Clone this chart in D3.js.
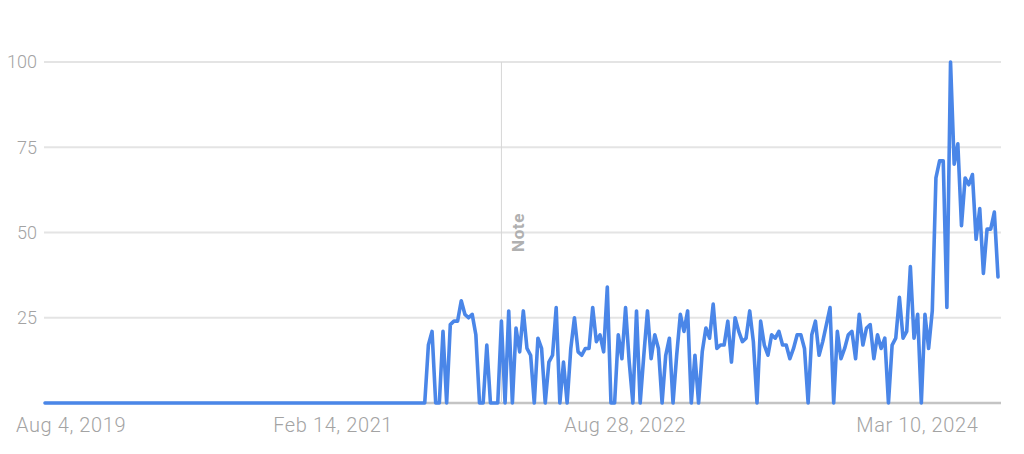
<!DOCTYPE html>
<html>
<head>
<meta charset="utf-8">
<script src="https://cdn.jsdelivr.net/npm/d3@7"></script>
<style>
  html, body { margin: 0; padding: 0; background: #ffffff; }
  svg { display: block; }
</style>
</head>
<body>
<svg id="chart" width="1024" height="454"></svg>
<script>
// ---- data ----
const startWeek = "2019-08-04";
const values = [
  0,0,0,0,0,0,0,0,0,0, 0,0,0,0,0,0,0,0,0,0,
  0,0,0,0,0,0,0,0,0,0, 0,0,0,0,0,0,0,0,0,0,
  0,0,0,0,0,0,0,0,0,0, 0,0,0,0,0,0,0,0,0,0,
  0,0,0,0,0,0,0,0,0,0, 0,0,0,0,0,0,0,0,0,0,
  0,0,0,0,0,0,0,0,0,0, 0,0,0,0,0,0,0,0,0,0,
  0,0,0,0,0,
  17,21,0,0,21,0,23,24,24,30,26,25,26,20,0,0,17,0,0,0,24,0,27,0,22,15,27,16,14,0,19,
  16,0,12,14,28,0,12,0,16,25,15,14,16,16,28,18,20,15,34,0,0,20,13,28,12,0,27,0,14,27,13,20,
  16,0,14,19,0,14,26,21,27,0,14,0,15,22,19,29,16,17,17,24,12,25,21,18,19,27,18,0,24,17,14,20,
  19,21,17,17,13,16,20,20,16,0,20,24,14,18,23,28,0,21,13,16,20,21,13,26,17,22,23,13,20,16,19,0,17,
  19,31,19,21,40,19,26,0,26,16,27,66,71,71,28,100,70,76,52,66,64,67,48,57,38,51,51,56,37
];
const yTicks = [25, 50, 75, 100];
const xTickLabels = ["Aug 4, 2019", "Feb 14, 2021", "Aug 28, 2022", "Mar 10, 2024"];
const noteDate = "2021-12-26";
const noteLabel = "Note";

(function () {
  const parseLabel = d3.utcParse("%b %d, %Y");
  const start = d3.utcParse("%Y-%m-%d")(startWeek);
  const series = values.map((v, i) => ({ date: d3.utcWeek.offset(start, i), value: v }));

  const svg = d3.select("#chart");
  const W = 1024;
  const mLeft = 45, mRight = 998, mTop = 62, mBottom = 403;

  const x = d3.scaleUtc()
    .domain(d3.extent(series, d => d.date))
    .range([mLeft, mRight]);
  const y = d3.scaleLinear().domain([0, 100]).range([mBottom, mTop]);

  const font = "Roboto, 'Noto Sans', sans-serif";
  const grey = "#a3a3a3";

  svg.append("g").selectAll("line").data(yTicks).join("line")
    .attr("x1", mLeft - 1).attr("x2", mRight + 3)
    .attr("y1", d => y(d)).attr("y2", d => y(d))
    .attr("stroke", "#e4e4e4").attr("stroke-width", 2);

  svg.append("g").selectAll("text").data(yTicks).join("text")
    .attr("x", mLeft - 8).attr("y", d => y(d))
    .attr("dy", "0.36em")
    .attr("text-anchor", "end")
    .attr("font-family", font).attr("font-size", 18).attr("font-weight", 300)
    .attr("fill", grey)
    .text(d => d);

  svg.append("line")
    .attr("x1", mLeft - 1).attr("x2", mRight + 3)
    .attr("y1", y(0)).attr("y2", y(0))
    .attr("stroke", "#c4c4c4").attr("stroke-width", 2.5);

  const nd = d3.utcParse("%Y-%m-%d")(noteDate);
  svg.append("line")
    .attr("x1", x(nd)).attr("x2", x(nd))
    .attr("y1", y(100)).attr("y2", y(0))
    .attr("stroke", "#d6d6d6").attr("stroke-width", 1);
  svg.append("text")
    .attr("transform", `translate(${x(nd) + 23},${y(50)}) rotate(-90)`)
    .attr("text-anchor", "middle")
    .attr("font-family", font).attr("font-size", 17).attr("font-weight", 700)
    .attr("letter-spacing", 0.6)
    .attr("fill", "#b0b0b0")
    .text(noteLabel);

  const line = d3.line().x(d => x(d.date)).y(d => y(d.value)).curve(d3.curveLinear);
  svg.append("path").datum(series)
    .attr("d", line)
    .attr("fill", "none")
    .attr("stroke", "#4a86e8")
    .attr("stroke-width", 3.6)
    .attr("stroke-linejoin", "round")
    .attr("stroke-linecap", "round");

  const xl = svg.append("g").selectAll("text").data(xTickLabels).join("text")
    .attr("y", mBottom + 29)
    .attr("text-anchor", "middle")
    .attr("font-family", font).attr("font-size", 20).attr("font-weight", 300)
    .attr("letter-spacing", 0.6)
    .attr("fill", grey)
    .text(d => d);
  xl.each(function (d) {
    const len = this.getComputedTextLength();
    const px = Math.max(x(parseLabel(d)) - 4, 16 + len / 2);
    d3.select(this).attr("x", Math.min(px, W - 16 - len / 2));
  });
})();
</script>
</body>
</html>
